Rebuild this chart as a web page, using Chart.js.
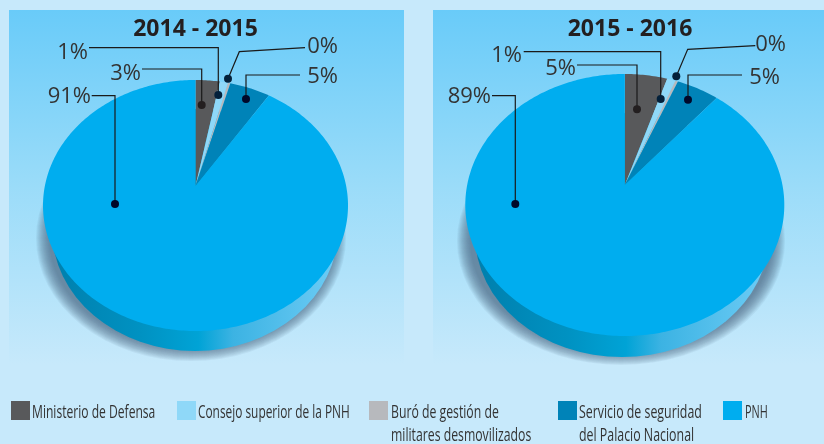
<!DOCTYPE html>
<html><head><meta charset="utf-8">
<script src="https://cdn.jsdelivr.net/npm/chart.js@4/dist/chart.umd.js"></script>
<style>
html,body{margin:0;padding:0;width:824px;height:444px;overflow:hidden;background:#c7e9fb}
.panel{position:absolute;top:10px;height:355px;background:linear-gradient(#69cbf9 0%,#9bdcf9 50%,#c7e9fb 100%)}
canvas{position:absolute;top:0}
.wrap{position:absolute;top:0;height:444px}
.box{position:absolute;top:401px;width:19px;height:19px}
.txt{position:absolute;top:400px;font:17.5px/23px 'Open Sans',sans-serif;color:#333;white-space:nowrap;transform-origin:0 0}
</style></head><body>
<div class="panel" style="left:9px;width:395px"></div>
<div class="panel" style="left:433px;width:391px"></div>
<div class="wrap" style="left:0;width:391px"><canvas id="c1"></canvas></div>
<div class="wrap" style="left:436px;width:388px"><canvas id="c2"></canvas></div>
<div id="legend"></div>
<script>
const categories = ['Ministerio de Defensa','Consejo superior de la PNH','Buró de gestión de militares desmovilizados','Servicio de seguridad del Palacio Nacional','PNH'];
const colors = ['#58595b','#8fd8f8','#b7b9bd','#0083b8','#00adef'];
const values1415 = [3, 1, 0.3, 5, 91];
const values1516 = [5, 1, 0.3, 5, 89];
const labels1415 = ['3%','1%','0%','5%','91%'];
const labels1516 = ['5%','1%','0%','5%','89%'];

// Perspective geometry of each tilted pie (page pixels)
const geo1 = {offX:0, ax:195.5, ay:186, top:80, bottom:331, rx:152.5,
  side:{cx:195,cy:230,rx:143,ry:121, x0:55,x1:342}, shadow:{cx:191,cy:238,rx:155,ry:123}};
const geo2 = {offX:436, ax:624.8, ay:185, top:74, bottom:336, rx:159.5,
  side:{cx:622,cy:235,rx:147,ry:122, x0:480,x1:772}, shadow:{cx:621,cy:241,rx:164,ry:124}};

// Leader annotations, page pixels: dot, elbow(s), label anchor
const leaders1 = [
 {i:0, pts:[[201.7,105],[201.7,69],[142,69]], tx:141, ty:74, align:'right', dot:'#231f20'},
 {i:1, pts:[[218.3,95],[218.3,47.7],[89,47.7]], tx:88, ty:53, align:'right', dot:'#03203a'},
 {i:2, pts:[[228,78.7],[239.3,51.7],[305,47.7]], tx:338, ty:47, align:'right', dot:'#03203a'},
 {i:3, pts:[[246,99],[246,75],[300,75]], tx:338, ty:77, align:'right', dot:'#00082a'},
 {i:4, pts:[[115,204],[115,95.7],[91.7,95.7]], tx:91, ty:97, align:'right', dot:'#00082a'}];
const leaders2 = [
 {i:1, pts:[[660.7,99],[660.7,51.7],[523.7,51.7]], tx:522, ty:56, align:'right', dot:'#03203a'},
 {i:0, pts:[[637,109.3],[637,65],[577,65]], tx:576, ty:69, align:'right', dot:'#231f20'},
 {i:2, pts:[[676.3,76.3],[687.7,49.3],[755.3,45.7]], tx:786, ty:45, align:'right', dot:'#03203a'},
 {i:3, pts:[[688,99.7],[688,75],[742,75]], tx:780, ty:78, align:'right', dot:'#00082a'},
 {i:4, pts:[[515.3,204],[515.3,95.7],[492,95.7]], tx:491, ty:97, align:'right', dot:'#00082a'}];

function homography(g){
  const U=g.ay-g.top, D=g.bottom-g.ay, k=(D-U)/(D+U), a=U*(1+k), c=g.rx*Math.sqrt(1-k*k);
  return (u,v)=>{const w=1+k*v; return [g.ax-g.offX+c*u/w, g.ay-a*v/w];};
}
function ell(ctx,e,off,d){ctx.beginPath();ctx.ellipse(e.cx-off,e.cy,e.rx-(d||0),e.ry-(d||0),0,0,Math.PI*2);ctx.closePath();}

const tiltPie = {
  id:'tiltPie',
  beforeDatasetDraw(chart,args,opts){
    const {ctx}=chart, g=opts.geo, P=homography(g), off=g.offX;
    ctx.save();
    // soft cast shadow: stacked translucent ellipses shrinking inward
    ctx.fillStyle='rgba(70,100,125,0.075)';
    for(let d=0;d<14;d++){ ell(ctx,g.shadow,off,d); ctx.fill(); }
    // pie side wall
    const s=g.side, grad=ctx.createLinearGradient(s.x0-off,0,s.x1-off,0);
    grad.addColorStop(0,'#0080ae'); grad.addColorStop(.3,'#0092c2'); grad.addColorStop(.5,'#00a3d6');
    grad.addColorStop(.62,'#3cb3e3'); grad.addColorStop(1,'#6fcdf6');
    ctx.fillStyle=grad; ell(ctx,s,off); ctx.fill();
    // top face: one wedge per arc, angles taken from the library's arcs
    const meta=chart.getDatasetMeta(args.index);
    const start0=-Math.PI/2;
    meta.data.forEach((arc,i)=>{
      const a0=arc.startAngle-start0, a1=arc.endAngle-start0, n=Math.max(2,Math.ceil((a1-a0)*60));
      ctx.beginPath();
      ctx.moveTo(...P(0,0));
      for(let j=0;j<=n;j++){const t=a0+(a1-a0)*j/n; ctx.lineTo(...P(Math.sin(t),Math.cos(t)));}
      ctx.closePath();
      ctx.fillStyle=arc.options.backgroundColor; ctx.fill();
    });
    // leaders and labels
    opts.leaders.forEach(l=>{
      ctx.strokeStyle='#1a1a1a'; ctx.lineWidth=1.2; ctx.beginPath();
      l.pts.forEach((p,j)=>{ j?ctx.lineTo(p[0]-off,p[1]):ctx.moveTo(p[0]-off,p[1]); }); ctx.stroke();
      ctx.fillStyle=l.dot; ctx.beginPath(); ctx.arc(l.pts[0][0]-off,l.pts[0][1],4,0,Math.PI*2); ctx.fill();
      ctx.fillStyle='#333'; ctx.font="22px 'Open Sans',sans-serif"; ctx.textAlign=l.align; ctx.textBaseline='middle';
      ctx.fillText(opts.labels[l.i],l.tx-off,l.ty);
    });
    ctx.restore();
    return false;
  }
};
Chart.defaults.font.family="'Open Sans',sans-serif";
function make(id,year,values,labels,geo,leaders){
  return new Chart(document.getElementById(id),{
    type:'pie',
    data:{labels:categories,datasets:[{data:values,backgroundColor:colors,borderWidth:0}]},
    options:{responsive:true,maintainAspectRatio:false,animation:false,events:[],
      plugins:{legend:{display:false},tooltip:{enabled:false},
        title:{display:true,text:year,color:'#231f20',font:{size:23,weight:'bold'},padding:{top:16,bottom:0}},
        tiltPie:{geo,leaders,labels}}},
    plugins:[tiltPie]});
}
make('c1','2014 - 2015',values1415,labels1415,geo1,leaders1);
make('c2','2015 - 2016',values1516,labels1516,geo2,leaders2);

// HTML legend: condensed text is squeezed to the reference's block widths
const legendPos=[{b:11,t:32,w:123},{b:177,t:198,w:152},{b:369,t:391,w:140},{b:558,t:579,w:123},{b:723,t:745,w:23}];
const legendLines=[['Ministerio de Defensa'],['Consejo superior de la PNH'],['Buró de gestión de','militares desmovilizados'],['Servicio de seguridad','del Palacio Nacional'],['PNH']];
const lg=document.getElementById('legend');
legendPos.forEach((p,i)=>{
  const b=document.createElement('div');b.className='box';b.style.left=p.b+'px';b.style.background=colors[i];lg.appendChild(b);
  const t=document.createElement('div');t.className='txt';t.style.left=p.t+'px';t.innerHTML=legendLines[i].join('<br>');lg.appendChild(t);
  t.style.transform='scaleX('+(p.w/t.offsetWidth)+')';
});
</script></body></html>
